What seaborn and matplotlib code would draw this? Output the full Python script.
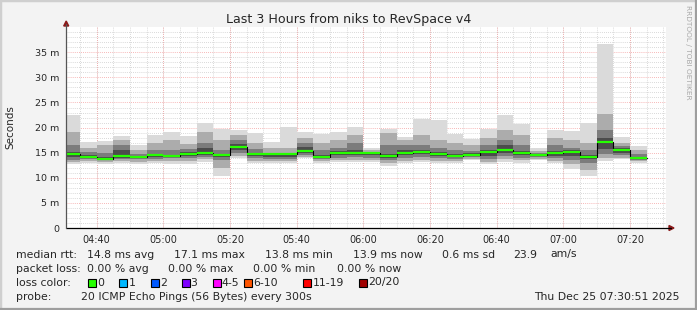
import matplotlib
matplotlib.use("Agg")
import matplotlib.pyplot as plt
import matplotlib.patches as mpatches
import numpy as np
import pandas as pd
import seaborn as sns

# ---------------- data (ms) ----------------
# one value per 5-minute step, starting 04:30
median = [14.8, 14.2, 13.8, 14.3, 14.2, 14.5, 14.3, 14.7, 15.0, 14.5, 16.2, 14.7, 14.7, 14.7, 15.4, 14.2, 14.9, 15.0,
          14.9, 14.3, 15.0, 15.2, 14.7, 14.3, 14.6, 15.1, 15.5, 15.0, 14.5, 14.9, 15.2, 14.2, 17.1, 15.6, 13.9]
smoke_lo0 = [12.7, 12.9, 12.7, 12.9, 12.7, 12.9, 12.7, 12.7, 13.2, 10.4, 13.9, 12.9, 12.9, 12.9, 13.9, 12.9, 13.2, 13.2,
             13.2, 12.4, 12.9, 13.2, 12.9, 12.9, 13.5, 12.7, 13.2, 13.0, 13.5, 12.9, 11.7, 10.4, 13.4, 13.7, 12.9]
smoke_hi0 = [22.5, 17.2, 17.4, 18.3, 16.5, 18.6, 19.1, 18.3, 21.0, 19.8, 19.5, 19.0, 17.1, 20.1, 19.1, 18.7, 19.1, 20.1,
             16.0, 19.7, 18.1, 21.7, 21.5, 18.7, 17.7, 19.7, 22.5, 20.7, 16.0, 19.5, 19.4, 21.0, 36.7, 18.2, 16.3]
smoke_lo1 = [13.2, 13.3, 13.2, 13.3, 13.2, 13.3, 13.3, 13.3, 13.8, 12.0, 14.3, 13.3, 13.3, 13.3, 14.2, 13.3, 13.6, 13.6,
             13.6, 13.0, 13.4, 13.6, 13.4, 13.4, 13.8, 13.2, 13.7, 13.5, 13.8, 13.4, 12.8, 11.5, 14.0, 14.0, 13.3]
smoke_hi1 = [19.2, 16.0, 16.5, 17.5, 15.5, 17.0, 17.5, 16.8, 19.2, 17.5, 18.5, 17.0, 16.0, 16.0, 18.0, 17.0, 17.5, 18.5,
             15.5, 19.0, 17.5, 18.5, 17.5, 17.0, 16.5, 18.0, 19.5, 18.5, 15.3, 18.0, 17.5, 17.0, 22.8, 17.0, 15.5]
smoke_lo2 = [13.6, 13.8, 13.5, 13.8, 13.7, 13.8, 13.9, 13.9, 14.2, 13.5, 15.0, 13.9, 13.8, 13.8, 14.6, 13.7, 14.0, 14.2,
             14.0, 13.6, 14.0, 14.2, 14.0, 13.8, 14.1, 13.8, 14.4, 14.0, 14.1, 13.9, 13.6, 13.0, 14.8, 14.5, 13.6]
smoke_hi2 = [16.5, 15.2, 15.0, 16.5, 14.8, 15.5, 15.5, 15.8, 17.0, 15.5, 17.5, 15.8, 15.0, 15.0, 17.0, 15.5, 16.0, 17.0,
             15.2, 16.5, 16.5, 16.5, 16.0, 15.5, 15.3, 16.5, 17.5, 16.5, 14.9, 16.5, 16.0, 15.5, 19.5, 16.3, 14.8]
smoke_lo3 = [14.2, 14.0, 13.6, 14.0, 14.0, 14.2, 14.1, 14.3, 14.6, 14.2, 15.5, 14.3, 14.2, 14.2, 15.0, 14.0, 14.5, 14.6,
             14.5, 14.0, 14.5, 14.7, 14.4, 14.1, 14.3, 14.4, 15.0, 14.5, 14.3, 14.4, 14.3, 13.8, 15.8, 15.0, 13.8]
smoke_hi3 = [15.2, 14.6, 14.2, 15.5, 14.4, 14.8, 14.6, 15.1, 16.0, 14.8, 16.7, 15.0, 14.9, 14.8, 16.2, 14.6, 15.3, 15.6,
             15.0, 14.8, 15.5, 15.6, 15.1, 14.7, 14.9, 15.5, 16.5, 15.4, 14.7, 15.3, 15.6, 14.6, 18.0, 15.9, 14.2]

tick_labels = ["04:40", "05:00", "05:20", "05:40", "06:00", "06:20", "06:40", "07:00", "07:20"]
y_tick_labels = ["0", "5 m", "10 m", "15 m", "20 m", "25 m", "30 m", "35 m"]
loss_labels = ["0", "1", "2", "3", "4-5", "6-10", "11-19", "20/20"]
loss_colors = ["#26ff00", "#00b8ff", "#0059ff", "#7e00ff", "#ff00ff", "#ff5500", "#ff0000", "#a10000"]

# ---------------- figure ----------------
sns.set_style("white")
plt.rcParams["font.family"] = ["DejaVu Sans"]

W, H = 697, 310
fig = plt.figure(figsize=(W / 100, H / 100), dpi=100)
fig.patch.set_facecolor("#f3f3f3")

def fx(px):
    return px / W

def fy(py):
    return 1 - py / H

# outer frame
fig.add_artist(mpatches.Rectangle((0, 0), 1, 1, transform=fig.transFigure, fill=False,
                                  edgecolor="#cfcfcf", lw=2.5))
fig.add_artist(plt.Line2D([fx(0), fx(W)], [fy(H - 1), fy(H - 1)], transform=fig.transFigure,
                          color="#9e9e9e", lw=1.6))
fig.add_artist(plt.Line2D([fx(W - 1), fx(W - 1)], [fy(0), fy(H)], transform=fig.transFigure,
                          color="#9e9e9e", lw=1.6))

left_px, right_px, top_px, bottom_px = 66.2, 666.2, 27.2, 228.0
ax = fig.add_axes([fx(left_px), fy(bottom_px), (right_px - left_px) / W, (bottom_px - top_px) / H])
ax.set_facecolor("white")

n = len(median)
step = 5.0
edges = np.arange(n + 1) * step  # minutes since 04:30

df = pd.DataFrame({
    "x": edges,
    "median": median + [median[-1]],
    "lo0": smoke_lo0 + [smoke_lo0[-1]], "hi0": smoke_hi0 + [smoke_hi0[-1]],
    "lo1": smoke_lo1 + [smoke_lo1[-1]], "hi1": smoke_hi1 + [smoke_hi1[-1]],
    "lo2": smoke_lo2 + [smoke_lo2[-1]], "hi2": smoke_hi2 + [smoke_hi2[-1]],
    "lo3": smoke_lo3 + [smoke_lo3[-1]], "hi3": smoke_hi3 + [smoke_hi3[-1]],
})

# grid
ax.set_xlim(0.85, 180.85)
ax.set_ylim(0, 40)
for v in np.arange(1, 40, 1):
    if v % 5:
        ax.axhline(v, color="#cccccc", lw=0.6, ls=(0, (1, 1.5)), zorder=0)
for v in np.arange(5, 181, 5):
    ax.axvline(v, color="#cccccc", lw=0.6, ls=(0, (1, 1.5)), zorder=0)
for v in np.arange(5, 40, 5):
    ax.axhline(v, color="#f4a0a0", lw=0.6, ls=(0, (1, 1.5)), zorder=0.5)
for v in np.arange(10, 181, 20):
    ax.axvline(v, color="#f4a0a0", lw=0.6, ls=(0, (1, 1.5)), zorder=0.5)

# smoke
shades = ["#dadada", "#acacac", "#7c7c7c", "#4c4c4c"]
for k, c in enumerate(shades):
    ax.fill_between(df["x"], df[f"lo{k}"], df[f"hi{k}"], step="post", color=c, lw=0, zorder=1 + k * 0.1)

# median: black step connectors + green horizontal segments
sns.lineplot(data=df, x="x", y="median", drawstyle="steps-post", color="black", lw=0.8, ax=ax, zorder=3)
ax.hlines(median, edges[:-1], edges[1:], color="#26ff00", lw=1.6, zorder=4)

# ticks
ax.set_xticks(np.arange(10, 181, 20))
ax.set_xticklabels(tick_labels)
ax.set_yticks(np.arange(0, 36, 5))
ax.set_yticklabels(y_tick_labels)
ax.tick_params(axis="x", length=2, width=0.8, color="#ff0000", direction="out", pad=3, labelsize=7)
ax.tick_params(axis="y", length=2, width=0.8, color="black", direction="out", pad=3, labelsize=6.8)
ax.set_xlabel("")
ax.set_ylabel("")
for s in ax.spines.values():
    s.set_visible(False)

# axes lines with arrows
fig.add_artist(plt.Line2D([fx(left_px), fx(671)], [fy(bottom_px), fy(bottom_px)], transform=fig.transFigure,
                          color="black", lw=0.9))
fig.add_artist(plt.Line2D([fx(left_px), fx(left_px)], [fy(bottom_px), fy(24)], transform=fig.transFigure,
                          color="#555555", lw=0.9))
fig.add_artist(mpatches.Polygon([[fx(669), fy(225.5)], [fx(674), fy(bottom_px)], [fx(669), fy(230.5)]],
                                closed=True, transform=fig.transFigure, color="#8b1a1a"))
fig.add_artist(mpatches.Polygon([[fx(left_px - 2.5), fy(26)], [fx(left_px), fy(21)], [fx(left_px + 2.5), fy(26)]],
                                closed=True, transform=fig.transFigure, color="#8b1a1a"))

# titles
fig.text(fx(348.5), fy(19), "Last 3 Hours from niks to RevSpace v4", ha="center", va="center", fontsize=9.1)
fig.text(fx(10), fy(127), "Seconds", rotation=90, ha="center", va="center", fontsize=7.5)
fig.text(fx(688), fy(5), "RRDTOOL / TOBI OETIKER", rotation=270, ha="center", va="top", fontsize=5.3,
         color="#a8a8a8")

# legend text
fs = 7.8
rows = [254.5, 268.5, 282.5, 296.5]
fig.text(fx(16), fy(rows[0]), "median rtt:", va="center", fontsize=fs)
for x, s in [(87.3, "14.8 ms avg"), (174.3, "17.1 ms max"), (265, "13.8 ms min"), (352.7, "13.9 ms now"),
             (441.7, "0.6 ms sd"), (513.3, "23.9"), (550, "am/s")]:
    fig.text(fx(x), fy(rows[0]), s, va="center", fontsize=fs)
fig.text(fx(16), fy(rows[1]), "packet loss:", va="center", fontsize=fs)
for x, s in [(87.3, "0.00 % avg"), (168.3, "0.00 % max"), (253.3, "0.00 % min"), (336.7, "0.00 % now")]:
    fig.text(fx(x), fy(rows[1]), s, va="center", fontsize=fs)
fig.text(fx(16), fy(rows[2]), "loss color:", va="center", fontsize=fs)
box_x = [88.3, 119.3, 150.7, 181.7, 212.7, 244.3, 303.3, 359.3]
for bx, lab, col in zip(box_x, loss_labels, loss_colors):
    fig.add_artist(mpatches.Rectangle((fx(bx), fy(rows[2] + 4)), 8 / W, 8 / H, transform=fig.transFigure,
                                      facecolor=col, edgecolor="black", lw=0.8))
    fig.text(fx(bx + 9), fy(rows[2]), lab, va="center", fontsize=fs)
fig.text(fx(16), fy(rows[3]), "probe:", va="center", fontsize=fs)
fig.text(fx(80.7), fy(rows[3]), "20 ICMP Echo Pings (56 Bytes) every 300s", va="center", fontsize=fs)
fig.text(fx(680), fy(rows[3]), "Thu Dec 25 07:30:51 2025", ha="right", va="center", fontsize=fs)

fig.savefig("out.png", dpi=100, facecolor=fig.get_facecolor())
